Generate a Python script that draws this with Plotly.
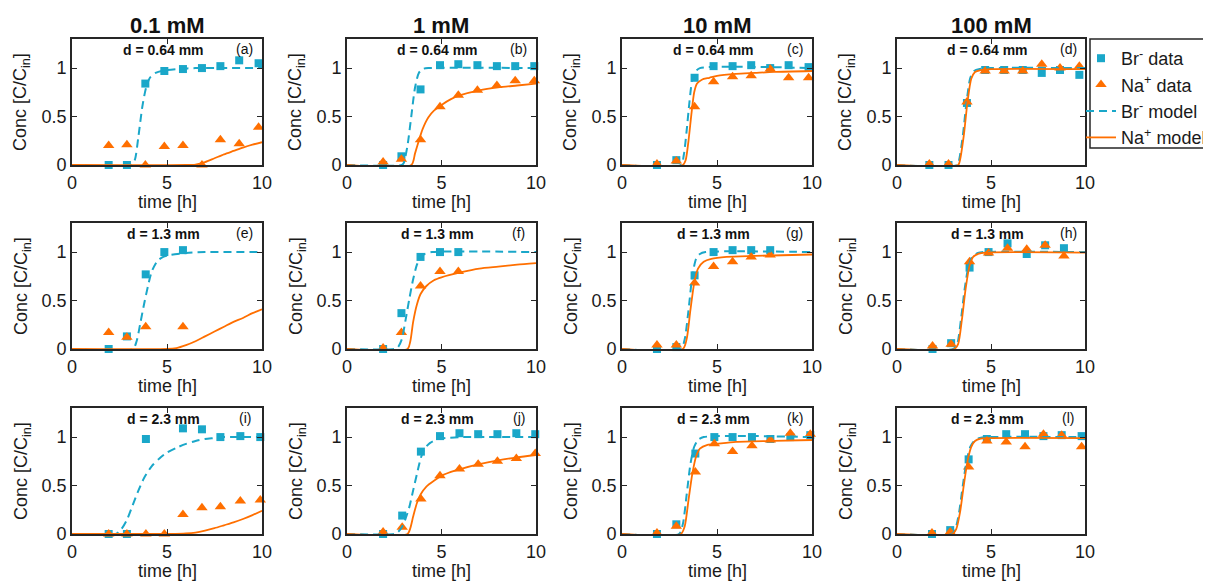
import plotly.graph_objects as go

# ---------------- data ----------------
COL_TITLES = ["0.1 mM", "1 mM", "10 mM", "100 mM"]
ROW_LABELS = ["d = 0.64 mm", "d = 1.3 mm", "d = 2.3 mm"]
PANEL_TAGS = ["(a)", "(b)", "(c)", "(d)", "(e)", "(f)", "(g)", "(h)", "(i)", "(j)", "(k)", "(l)"]

# measured times per panel
T_A = [1.93, 2.89, 3.86, 4.86, 5.84, 6.84, 7.81, 8.8, 9.82]
T_B = [1.91, 2.88, 3.89, 4.92, 5.89, 6.9, 7.93, 8.9, 9.91]
T_C = [1.84, 2.86, 3.82, 4.82, 5.82, 6.8, 7.8, 8.77, 9.82]
T_D = [1.72, 2.74, 3.72, 4.69, 5.7, 6.69, 7.7, 8.67, 9.7]
T_E = [1.93, 2.89, 3.88, 4.86, 5.84]
T_F = [1.91, 2.88, 3.89, 4.92, 5.89]
T_G = [1.84, 2.86, 3.82, 4.82, 5.82, 6.8, 7.8]
T_H = [1.89, 2.88, 3.86, 4.87, 5.88, 6.9, 7.88, 8.88]
T_I = [1.93, 2.89, 3.89, 4.86, 5.84, 6.84, 7.81, 8.86, 9.91]
T_J = [1.91, 2.92, 3.91, 4.92, 5.95, 6.94, 7.96, 8.96, 9.96]
T_K = [1.84, 2.86, 3.86, 4.86, 5.82, 6.84, 7.81, 8.86, 9.91]
T_L = [1.86, 2.83, 3.81, 4.78, 5.81, 6.81, 7.79, 8.76, 9.82]

# Br- data
BR_A = [0, 0, 0.84, 0.97, 0.99, 1.0, 1.02, 1.08, 1.05]
BR_B = [0, 0.09, 0.78, 1.03, 1.04, 1.03, 1.02, 1.02, 1.02]
BR_C = [0, 0.05, 0.9, 1.02, 1.02, 1.03, 1.0, 1.03, 1.01]
BR_D = [0, 0, 0.64, 0.98, 0.98, 0.98, 0.95, 0.98, 0.93]
BR_E = [0, 0.13, 0.77, 1.0, 1.02]
BR_F = [0, 0.37, 0.95, 1.0, 1.0]
BR_G = [0, 0.02, 0.76, 1.0, 1.02, 1.02, 1.02]
BR_H = [0, 0.06, 0.84, 1.0, 1.09, 0.98, 1.07, 1.04]
BR_I = [0, 0, 0.98, None, 1.09, 1.08, 1.0, 1.01, 1.0]
BR_J = [0, 0.19, 0.85, 1.01, 1.04, 1.03, 1.03, 1.04, 1.03]
BR_K = [0, 0.1, 0.83, 1.0, 1.0, 1.0, 0.98, 1.0, 1.02]
BR_L = [0, 0.04, 0.77, 0.98, 1.03, 1.03, 1.01, 1.02, 1.01]

# Na+ data
NA_A = [0.2, 0.21, 0, 0.19, 0.2, 0, 0.26, 0.22, 0.39]
NA_B = [0.03, 0.06, 0.26, 0.6, 0.72, 0.77, 0.82, 0.87, 0.87]
NA_C = [0.01, 0.04, 0.6, 0.86, 0.91, 0.92, 0.99, 0.9, 0.9]
NA_D = [0.01, 0.01, 0.65, 0.97, 0.97, 0.97, 1.04, 1.0, 1.02]
NA_E = [0.17, 0.12, 0.23, None, 0.23]
NA_F = [0.01, 0.17, 0.65, 0.8, 0.8]
NA_G = [0.04, 0.04, 0.68, 0.85, 0.9, 0.95, 0.97]
NA_H = [0.03, 0.05, 0.9, 0.99, 1.04, 1.03, 1.07, 0.96]
NA_I = [0, 0, 0, 0, 0.2, 0.27, 0.28, 0.34, 0.35]
NA_J = [0.02, 0.07, 0.36, 0.6, 0.67, 0.72, 0.75, 0.78, 0.83]
NA_K = [0.01, 0.08, 0.64, 0.93, 0.85, 0.91, 0.97, 1.04, 1.03]
NA_L = [0.01, 0.02, 0.69, 0.96, 0.95, 0.9, 1.03, 1.02, 0.9]

# Br- model curves (time, value)
BRM_A_T = [0, 3.1, 3.3, 3.5, 3.7, 3.9, 4.1, 4.4, 4.8, 5.5, 6.5, 10]
BRM_A = [0, 0, 0.05, 0.3, 0.6, 0.8, 0.9, 0.95, 0.975, 0.99, 1.0, 1.0]
BRM_B_T = [0, 2.9, 3.0, 3.2, 3.4, 3.6, 3.8, 4.0, 4.3, 10]
BRM_B = [0, 0, 0.02, 0.2, 0.5, 0.8, 0.95, 0.99, 1.0, 1.0]
BRM_C_T = [0, 3.1, 3.25, 3.4, 3.55, 3.7, 3.9, 4.1, 10]
BRM_C = [0, 0, 0.1, 0.35, 0.65, 0.88, 0.97, 1.0, 1.0]
BRM_D_T = [0, 3.2, 3.3, 3.5, 3.7, 3.9, 4.1, 4.4, 5, 10]
BRM_D = [0, 0, 0.05, 0.3, 0.65, 0.9, 0.97, 0.99, 1.0, 1.0]
BRM_E_T = [0, 3.2, 3.4, 3.6, 3.8, 4.0, 4.2, 4.5, 4.8, 5.2, 6, 7, 10]
BRM_E = [0, 0, 0.08, 0.27, 0.47, 0.65, 0.8, 0.91, 0.95, 0.97, 0.99, 1.0, 1.0]
BRM_F_T = [0, 2.5, 2.7, 2.9, 3.1, 3.3, 3.5, 3.7, 3.9, 4.1, 4.5, 10]
BRM_F = [0, 0, 0.02, 0.1, 0.3, 0.52, 0.72, 0.87, 0.95, 0.98, 1.0, 1.0]
BRM_G_T = [0, 3.1, 3.3, 3.5, 3.7, 3.9, 4.1, 4.4, 10]
BRM_G = [0, 0, 0.1, 0.4, 0.75, 0.93, 0.98, 1.0, 1.0]
BRM_H_T = [0, 3.0, 3.2, 3.4, 3.6, 3.8, 4.0, 4.3, 4.6, 10]
BRM_H = [0, 0, 0.05, 0.3, 0.62, 0.85, 0.95, 0.99, 1.0, 1.0]
BRM_I_T = [0, 2.3, 2.6, 2.9, 3.2, 3.5, 3.8, 4.2, 4.6, 5, 5.5, 6, 6.5, 7, 7.5, 8, 10]
BRM_I = [0, 0, 0.05, 0.15, 0.3, 0.45, 0.58, 0.7, 0.78, 0.84, 0.89, 0.93, 0.96, 0.98, 0.99, 1.0, 1.0]
BRM_J_T = [0, 2.5, 2.7, 2.9, 3.1, 3.3, 3.5, 3.7, 3.9, 4.1, 4.4, 4.8, 5.2, 6, 10]
BRM_J = [0, 0, 0.02, 0.07, 0.16, 0.28, 0.45, 0.62, 0.78, 0.88, 0.94, 0.98, 0.99, 1.0, 1.0]
BRM_K_T = [0, 3.0, 3.2, 3.4, 3.6, 3.8, 4.0, 4.3, 10]
BRM_K = [0, 0, 0.1, 0.4, 0.72, 0.9, 0.97, 1.0, 1.0]
BRM_L_T = [0, 2.9, 3.1, 3.3, 3.5, 3.7, 3.9, 4.1, 4.4, 5, 10]
BRM_L = [0, 0, 0.05, 0.22, 0.5, 0.75, 0.9, 0.96, 0.99, 1.0, 1.0]

# Na+ model curves
NAM_A_T = [0, 6.0, 6.5, 7, 7.5, 8, 8.5, 9, 9.5, 10]
NAM_A = [0, 0, 0.005, 0.03, 0.07, 0.11, 0.145, 0.18, 0.21, 0.235]
NAM_B_T = [0, 3.4, 3.6, 3.8, 4.0, 4.3, 4.6, 5.0, 5.5, 6, 7, 8, 9, 10]
NAM_B = [0, 0, 0.12, 0.25, 0.37, 0.49, 0.56, 0.62, 0.68, 0.72, 0.77, 0.8, 0.82, 0.84]
NAM_C_T = [0, 3.2, 3.35, 3.5, 3.65, 3.8, 3.95, 4.2, 4.6, 5, 6, 7, 8, 10]
NAM_C = [0, 0, 0.05, 0.25, 0.52, 0.75, 0.84, 0.88, 0.9, 0.92, 0.94, 0.95, 0.96, 0.97]
NAM_D_T = [0, 3.25, 3.35, 3.55, 3.75, 3.95, 4.15, 4.45, 5, 10]
NAM_D = [0, 0, 0.05, 0.3, 0.65, 0.89, 0.96, 0.98, 0.99, 0.99]
NAM_E_T = [0, 5, 5.5, 6, 6.5, 7, 7.5, 8, 8.5, 9, 9.5, 10]
NAM_E = [0, 0, 0.01, 0.04, 0.08, 0.13, 0.18, 0.23, 0.28, 0.32, 0.37, 0.41]
NAM_F_T = [0, 3.2, 3.35, 3.5, 3.7, 3.9, 4.2, 4.6, 5, 6, 7, 8, 9, 10]
NAM_F = [0, 0, 0.08, 0.28, 0.46, 0.57, 0.65, 0.71, 0.74, 0.79, 0.83, 0.85, 0.87, 0.885]
NAM_G_T = [0, 3.2, 3.4, 3.6, 3.8, 4.0, 4.3, 4.7, 5.5, 7, 10]
NAM_G = [0, 0, 0.1, 0.4, 0.68, 0.83, 0.9, 0.93, 0.95, 0.96, 0.975]
NAM_H_T = [0, 3.05, 3.25, 3.45, 3.65, 3.85, 4.05, 4.35, 4.7, 10]
NAM_H = [0, 0, 0.05, 0.3, 0.62, 0.85, 0.95, 0.985, 0.995, 0.995]
NAM_I_T = [0, 5.2, 6, 6.5, 7, 7.5, 8, 8.5, 9, 9.5, 10]
NAM_I = [0, 0, 0.005, 0.015, 0.035, 0.06, 0.09, 0.12, 0.155, 0.195, 0.24]
NAM_J_T = [0, 3.2, 3.35, 3.5, 3.7, 3.9, 4.2, 4.6, 5, 5.5, 6, 7, 8, 9, 10]
NAM_J = [0, 0, 0.06, 0.18, 0.32, 0.41, 0.49, 0.55, 0.6, 0.64, 0.67, 0.72, 0.76, 0.79, 0.815]
NAM_K_T = [0, 3.1, 3.3, 3.5, 3.7, 3.9, 4.1, 4.5, 5, 6, 8, 10]
NAM_K = [0, 0, 0.08, 0.35, 0.62, 0.8, 0.88, 0.92, 0.93, 0.95, 0.96, 0.97]
NAM_L_T = [0, 2.95, 3.15, 3.35, 3.55, 3.75, 3.95, 4.15, 4.45, 5, 10]
NAM_L = [0, 0, 0.05, 0.22, 0.5, 0.75, 0.9, 0.96, 0.985, 0.99, 0.99]

X_TICKS = [0, 5, 10]
X_TICKTEXT = ["0", "5", "10"]
Y_TICKS = [0, 0.5, 1]
Y_TICKTEXT = ["0", "0.5", "1"]

PANELS = [
    (T_A, BR_A, NA_A, BRM_A_T, BRM_A, NAM_A_T, NAM_A),
    (T_B, BR_B, NA_B, BRM_B_T, BRM_B, NAM_B_T, NAM_B),
    (T_C, BR_C, NA_C, BRM_C_T, BRM_C, NAM_C_T, NAM_C),
    (T_D, BR_D, NA_D, BRM_D_T, BRM_D, NAM_D_T, NAM_D),
    (T_E, BR_E, NA_E, BRM_E_T, BRM_E, NAM_E_T, NAM_E),
    (T_F, BR_F, NA_F, BRM_F_T, BRM_F, NAM_F_T, NAM_F),
    (T_G, BR_G, NA_G, BRM_G_T, BRM_G, NAM_G_T, NAM_G),
    (T_H, BR_H, NA_H, BRM_H_T, BRM_H, NAM_H_T, NAM_H),
    (T_I, BR_I, NA_I, BRM_I_T, BRM_I, NAM_I_T, NAM_I),
    (T_J, BR_J, NA_J, BRM_J_T, BRM_J, NAM_J_T, NAM_J),
    (T_K, BR_K, NA_K, BRM_K_T, BRM_K, NAM_K_T, NAM_K),
    (T_L, BR_L, NA_L, BRM_L_T, BRM_L, NAM_L_T, NAM_L),
]

# ---------------- styling / layout ----------------
W, H = 1211, 581
OFF = 8  # page body margin offset (px)
CYAN = "#1AA7C9"
ORANGE = "#FF6F00"
AXC = "#262626"
TXT = "#1a1a1a"
FONT = "Liberation Sans, Arial, Helvetica, sans-serif"

COL_PX = [(72, 262), (347, 536), (622, 812), (897, 1085)]
ROW_PX = [(39, 165), (223, 349), (408, 534)]


def px_x(v):
    return (v - OFF) / W


def px_y(v):
    return 1 - (v - OFF) / H


fig = go.Figure()
annotations = []
layout = {}

for i, (t, br, na, bmt, bm, nmt, nm) in enumerate(PANELS):
    r, c = divmod(i, 4)
    n = i + 1
    xa = "x" if n == 1 else f"x{n}"
    ya = "y" if n == 1 else f"y{n}"
    show = (i == 0)
    fig.add_trace(go.Scatter(x=t, y=br, xaxis=xa, yaxis=ya, mode="markers",
                             marker=dict(symbol="square", size=8, color=CYAN),
                             name="Br<sup>-</sup> data", showlegend=show, cliponaxis=False))
    fig.add_trace(go.Scatter(x=t, y=na, xaxis=xa, yaxis=ya, mode="markers",
                             marker=dict(symbol="triangle-up", size=10, color=ORANGE),
                             name="Na<sup>+</sup> data", showlegend=show, cliponaxis=False))
    fig.add_trace(go.Scatter(x=bmt, y=bm, xaxis=xa, yaxis=ya, mode="lines",
                             line=dict(color=CYAN, width=2, dash="8px,5px", shape="spline", smoothing=0.7),
                             name="Br<sup>-</sup> model", showlegend=show))
    fig.add_trace(go.Scatter(x=nmt, y=nm, xaxis=xa, yaxis=ya, mode="lines",
                             line=dict(color=ORANGE, width=1.8, shape="spline", smoothing=0.7),
                             name="Na<sup>+</sup> model", showlegend=show))

    l, rr = COL_PX[c]
    tp, bt = ROW_PX[r]
    common = dict(showgrid=False, zeroline=False, showline=True, linecolor=AXC, linewidth=1.8,
                  mirror="ticks", ticks="inside", ticklen=5, tickwidth=1.2, tickcolor=AXC,
                  tickfont=dict(size=18, color=TXT, family=FONT), fixedrange=True)
    layout["xaxis" if n == 1 else f"xaxis{n}"] = dict(
        domain=[px_x(l), px_x(rr)], range=[0, 10], tickvals=X_TICKS, ticktext=X_TICKTEXT,
        anchor=ya, **common)
    layout["yaxis" if n == 1 else f"yaxis{n}"] = dict(
        domain=[px_y(bt), px_y(tp)], range=[0, 1.3], tickvals=Y_TICKS, ticktext=Y_TICKTEXT,
        anchor=xa, **common)

    # in-panel labels
    annotations.append(dict(x=4.8, y=1.19, xref=xa, yref=ya, text=f"<b>{ROW_LABELS[r]}</b>",
                            xanchor="center", yanchor="middle",
                            showarrow=False, font=dict(size=14, color="#111", family=FONT)))
    annotations.append(dict(x=9.1, y=1.2, xref=xa, yref=ya, text=PANEL_TAGS[i],
                            xanchor="center", yanchor="middle",
                            showarrow=False, font=dict(size=14, color="#111", family=FONT)))
    # axis titles
    annotations.append(dict(x=px_x(l - 50), y=px_y((tp + bt) / 2), xref="paper", yref="paper",
                            text="Conc [C/C<sub>in</sub>]", textangle=-90, showarrow=False,
                            xanchor="center", yanchor="middle",
                            font=dict(size=18, color=TXT, family=FONT)))
    annotations.append(dict(x=px_x((l + rr) / 2), y=px_y(bt + 37), xref="paper", yref="paper",
                            text="time [h]", showarrow=False, xanchor="center", yanchor="middle",
                            font=dict(size=18, color=TXT, family=FONT)))

for c, title in enumerate(COL_TITLES):
    l, rr = COL_PX[c]
    annotations.append(dict(x=px_x((l + rr) / 2), y=px_y(25), xref="paper", yref="paper",
                            text=f"<b>{title}</b>", showarrow=False, xanchor="center", yanchor="middle",
                            font=dict(size=22, color="#111", family=FONT)))

# legend frame (drawn as a shape so the entries can sit tighter inside it)
shapes = [dict(type="rect", xref="paper", yref="paper",
               x0=px_x(1090), x1=px_x(1230), y0=px_y(148), y1=px_y(39),
               line=dict(color=AXC, width=1.5), fillcolor="rgba(0,0,0,0)", layer="above")]

fig.update_layout(
    width=W, height=H,
    margin=dict(l=0, r=0, t=0, b=0, autoexpand=False),
    paper_bgcolor="white", plot_bgcolor="white",
    font=dict(family=FONT, size=18, color=TXT),
    annotations=annotations,
    shapes=shapes,
    showlegend=True,
    legend=dict(x=px_x(1081), y=px_y(40), xanchor="left", yanchor="top",
                bgcolor="rgba(0,0,0,0)", borderwidth=0,
                font=dict(size=18, family=FONT, color=TXT),
                itemwidth=30, tracegroupgap=0),
    **layout,
)

fig.write_html("out.html")
